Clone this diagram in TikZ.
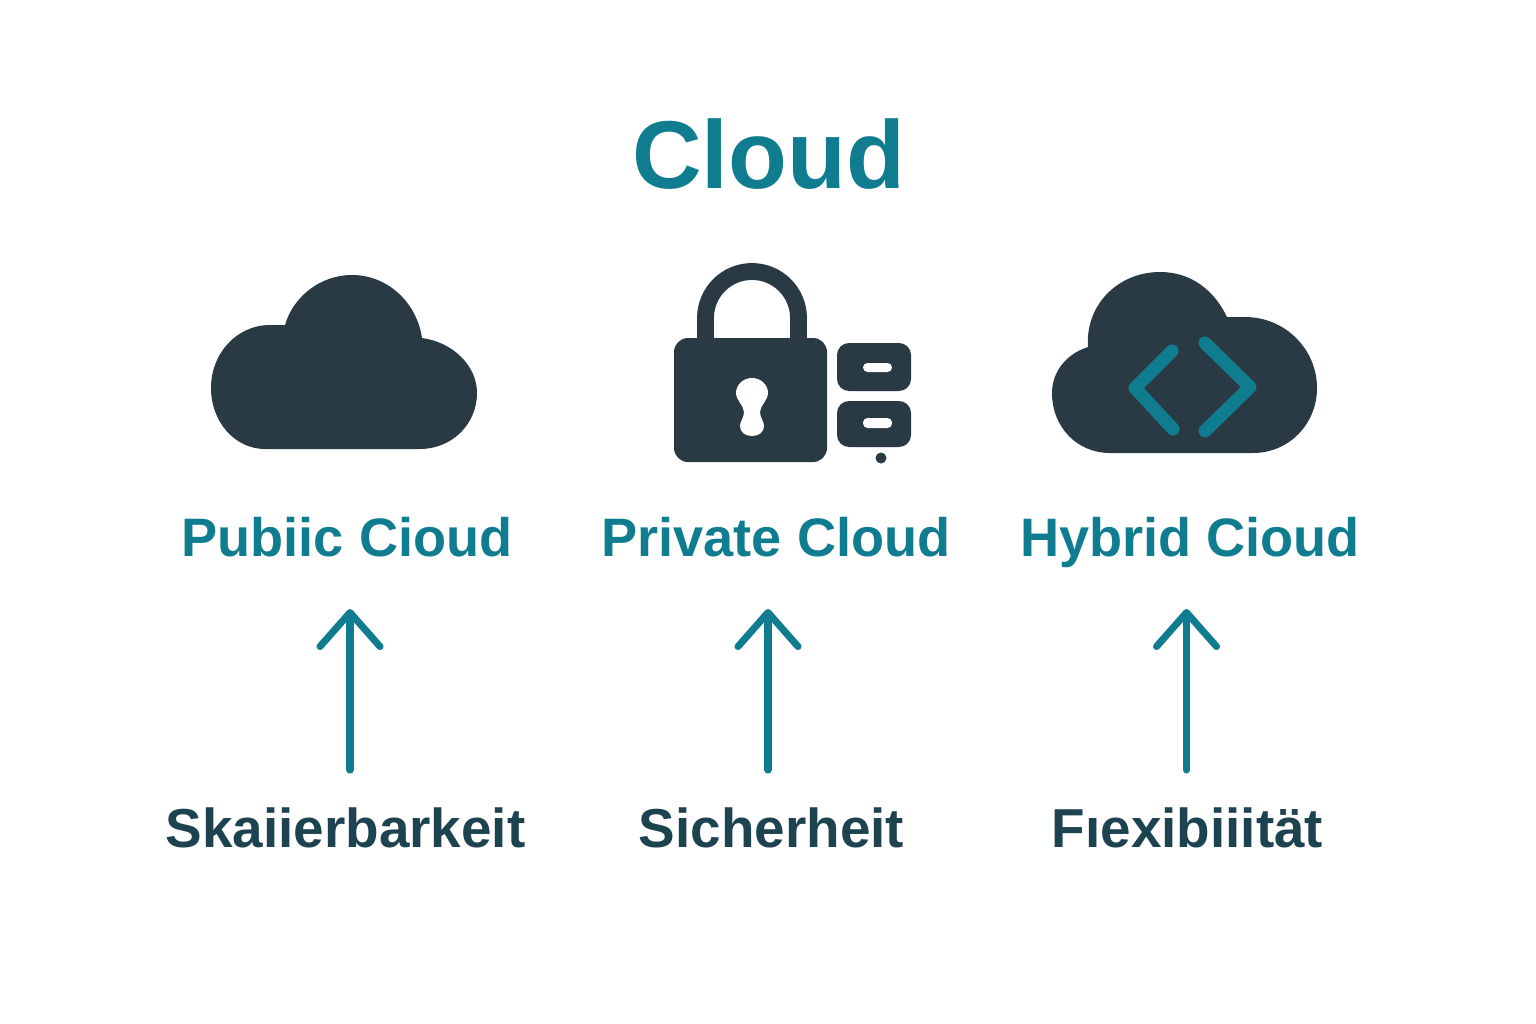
\documentclass[tikz,border=0pt]{standalone}
\usepackage{fontspec}
\setmainfont{Liberation Sans}
\usetikzlibrary{arrows.meta}

\definecolor{cloudteal}{HTML}{0F7C8F}
\definecolor{icondark}{HTML}{2A3A44}
\definecolor{factordark}{HTML}{1D4250}

\tikzset{
  titlelabel/.style={anchor=base, inner sep=0pt, text=cloudteal, font=\fontsize{27.4}{30}\bfseries},
  typelabel/.style={anchor=base, inner sep=0pt, text=cloudteal, font=\fontsize{15.4}{18}\bfseries},
  factorlabel/.style={anchor=base, inner sep=0pt, text=factordark, font=\fontsize{15.6}{18}\bfseries},
  upline/.style={draw=cloudteal, line width=2pt, line cap=round, -{Straight Barb[length=0.34cm, width=0.6cm, round]}},
  codeline/.style={draw=cloudteal, line width=3.7pt, line cap=round, line join=round},
}

\begin{document}
\begin{tikzpicture}[x=0.01cm, y=-0.01cm]
  \useasboundingbox (0,0) rectangle (1536,1024);

  \draw (768.5,188) node [titlelabel] (title) {Cloud};

  % public cloud
  \fill [icondark] (265,449) -- (420,449) .. controls (452,449) and (477,424) .. (477,393)
    .. controls (477,365) and (452,342) .. (422,338) .. controls (417,303) and (388,275) .. (352,275)
    .. controls (320,275) and (293,297) .. (285,325) -- (270,325) .. controls (237,325) and (211,353) .. (211,388)
    .. controls (211,422) and (235,449) .. (265,449) -- cycle;

  % private cloud
  \fill [icondark, rounded corners=0.14cm] (674,338) rectangle (827,462);
  \draw [icondark, line width=4.8pt] (705.5,345) -- (705.5,318) arc (180:360:46.5) -- (798.5,345);
  \fill [white] (752,378) .. controls (761,378) and (768,385) .. (768,393) .. controls (768,400) and (760,406) .. (760,412)
    .. controls (760,418) and (764,421) .. (764,426) .. controls (764,432) and (759,436) .. (752,436)
    .. controls (745,436) and (740,432) .. (740,426) .. controls (740,421) and (744,418) .. (744,412)
    .. controls (744,406) and (736,400) .. (736,393) .. controls (736,385) and (743,378) .. (752,378) -- cycle;
  \fill [icondark, rounded corners=0.12cm] (837,343) rectangle (911,391);
  \fill [icondark, rounded corners=0.12cm] (837,401) rectangle (911,447);
  \fill [white, rounded corners=0.045cm] (863,363) rectangle (892,372);
  \fill [white, rounded corners=0.045cm] (863,418) rectangle (892,428);
  \fill [icondark] (881,458) circle (5.5);

  % hybrid cloud
  \fill [icondark] (1110,453) -- (1253,453) .. controls (1289,453) and (1317,424) .. (1317,388)
    .. controls (1317,349) and (1285,317) .. (1245,317) -- (1227,317) .. controls (1214,290) and (1191,272) .. (1160,272)
    .. controls (1118,272) and (1085,305) .. (1088,347) .. controls (1066,354) and (1052,372) .. (1052,393)
    .. controls (1052,427) and (1077,453) .. (1110,453) -- cycle;
  \draw [codeline] (1172,351) -- (1135,388) -- (1173,429);
  \draw [codeline] (1205,343) -- (1250,387) -- (1205,431);

  \draw (347,556) node [typelabel] (public) {Pubiic Cioud};
  \draw (776,556) node [typelabel] (private) {Private Cloud};
  \draw (1190,556) node [typelabel] (hybrid) {Hybrid Cioud};

  \draw (345.5,847) node [factorlabel] (scale) {Skaiierbarkeit};
  \draw (771.5,847) node [factorlabel] (safe) {Sicherheit};
  \draw (1187.5,847) node [factorlabel] (flex) {Fıexibiiität};

  \coordinate (scalefoot) at (350,770);
  \coordinate (safefoot) at (768,770);
  \coordinate (flexfoot) at (1186.5,770);
  \coordinate (publichead) at (350,609);
  \coordinate (privatehead) at (768,609);
  \coordinate (hybridhead) at (1186.5,609);

  \draw [upline] (scalefoot) -- (publichead);
  \draw [upline] (safefoot) -- (privatehead);
  \draw [upline] (flexfoot) -- (hybridhead);
\end{tikzpicture}
\end{document}
